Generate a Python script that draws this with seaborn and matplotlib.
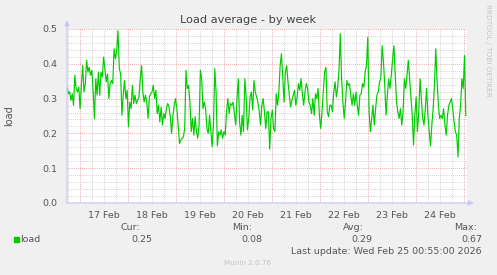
import numpy as np
import pandas as pd
import matplotlib
matplotlib.use("Agg")
import matplotlib.pyplot as plt
import matplotlib.dates as mdates
from matplotlib.ticker import MultipleLocator, FuncFormatter, NullFormatter
import seaborn as sns

# ---------------- data ----------------
title = "Load average - by week"
ylabel = "load"
series_name = "load"
seg1 = [0.333,0.314,0.319,0.295,0.314,0.281,0.367,0.329,0.319,0.333,
        0.271,0.338,0.395,0.319,0.343,0.41,0.376,0.39,0.367,0.381,
        0.319,0.243,0.357,0.31,0.376,0.31,0.376,0.362,0.419,0.386,
        0.348,0.371,0.3,0.343,0.352,0.343,0.443,0.414,0.438,0.495,
        0.386,0.371,0.252,0.31,0.352,0.3,0.324,0.219,0.29,0.271,
        0.338,0.286,0.31,0.286,0.295,0.305,0.357,0.395,0.319,0.29]
seg2 = [0.31,0.29,0.243,0.305,0.314,0.319,0.338,0.3,0.324,0.257,
        0.281,0.233,0.276,0.224,0.257,0.243,0.271,0.286,0.276,0.248,
        0.2,0.252,0.281,0.3,0.271,0.224,0.171,0.181,0.186,0.19,
        0.214,0.381,0.329,0.338,0.29,0.205,0.243,0.195,0.248,0.205,
        0.186,0.224,0.381,0.357,0.271,0.29,0.271,0.214,0.2,0.252,
        0.205,0.162,0.224,0.386,0.319,0.164,0.205,0.195,0.21,0.186,
        0.205,0.195]
seg3 = [0.262,0.3,0.257,0.286,0.281,0.29,0.257,0.224,0.3,0.357,
        0.233,0.195,0.252,0.205,0.357,0.305,0.21,0.243,0.305,0.319,
        0.267,0.352,0.319,0.305,0.29,0.262,0.224,0.281,0.3,0.262,
        0.214,0.262,0.262,0.155,0.243,0.267,0.214,0.205,0.314,0.281,
        0.319,0.395,0.429,0.357,0.29,0.376,0.395,0.348,0.31,0.276,
        0.295,0.31,0.324,0.281,0.305,0.343,0.324,0.357,0.314,0.281,
        0.319,0.343]
seg4 = [0.329,0.29,0.281,0.257,0.3,0.252,0.314,0.3,0.329,0.252,
        0.214,0.262,0.319,0.376,0.39,0.262,0.248,0.281,0.281,0.262,
        0.319,0.348,0.305,0.333,0.381,0.486,0.357,0.29,0.243,0.29,
        0.352,0.338,0.343,0.31,0.281,0.314,0.281,0.319,0.281,0.252,
        0.31,0.314,0.343,0.333,0.376,0.395,0.476,0.262,0.205,0.243,
        0.281,0.224,0.271,0.31,0.319,0.348,0.357,0.452,0.405,0.338]
seg5 = [0.252,0.31,0.357,0.329,0.367,0.414,0.452,0.367,0.29,0.262,
        0.243,0.271,0.224,0.262,0.357,0.329,0.367,0.41,0.357,0.3,
        0.252,0.167,0.252,0.305,0.205,0.262,0.357,0.3,0.243,0.224,
        0.271,0.329,0.252,0.205,0.164,0.224,0.271,0.338,0.443,0.352,
        0.281,0.243,0.252,0.243,0.271,0.224,0.195,0.252,0.281,0.29,
        0.3,0.271,0.233,0.205,0.195,0.132,0.243,0.281,0.357,0.329,
        0.424,0.25]
load_values = seg1 + seg2 + seg3 + seg4 + seg5
data_start = "2026-02-16 17:30"
data_end = "2026-02-25 00:55"
view_start = "2026-02-16 17:30"
view_end = "2026-02-25 01:30"
legend_headers = ["Cur:", "Min:", "Avg:", "Max:"]
legend_values = ["0.25", "0.08", "0.29", "0.67"]
last_update = "Last update: Wed Feb 25 00:55:00 2026"
footer = "Munin 2.0.76"
side_text = "RRDTOOL / TOBI OETIKER"

times = pd.date_range(data_start, data_end, periods=len(load_values))
df = pd.DataFrame({"time": times, "load": load_values})

# ---------------- style ----------------
sns.set_style("white")
plt.rcParams["font.family"] = ["DejaVu Sans"]
BG = "#F0F0F0"
TXT = "#555555"
AX = "#C8C8F8"
RED = "#E89090"
GRAY = "#BEBEBE"

fig = plt.figure(figsize=(4.97, 2.75), dpi=100, facecolor=BG)
W, H = 497, 275
ax = fig.add_axes([67 / W, 1 - 203 / H, 400 / W, 174 / H])
ax.set_facecolor("white")

sns.lineplot(data=df, x="time", y="load", ax=ax, color="#00CC00", lw=0.85)

ax.set_xlim(pd.Timestamp(view_start), pd.Timestamp(view_end))
ax.set_ylim(0, 0.5)

# grid
ax.yaxis.set_major_locator(MultipleLocator(0.1))
ax.yaxis.set_minor_locator(MultipleLocator(0.02))
ax.xaxis.set_major_locator(mdates.DayLocator())
ax.xaxis.set_minor_locator(mdates.HourLocator(byhour=[6, 12, 18]))
ax.grid(which="minor", color=GRAY, ls=(0, (1, 1.5)), lw=0.55)
ax.grid(which="major", color=RED, ls=(0, (1, 1.5)), lw=0.6)
ax.set_axisbelow(True)

ax.yaxis.set_major_formatter(FuncFormatter(lambda v, p: f"{v:.1f}"))


def noon_fmt(v, p):
    frac = v % 1.0
    if abs(frac - 0.5) < 0.01:
        return mdates.num2date(v).strftime("%d Feb").lstrip("0")
    return ""


ax.xaxis.set_major_formatter(NullFormatter())
ax.xaxis.set_minor_formatter(FuncFormatter(noon_fmt))
ax.tick_params(axis="both", which="major", length=2, width=0.6, color="#E07070",
               labelsize=6.8, labelcolor=TXT, pad=2)
ax.tick_params(axis="both", which="minor", length=2, width=0.6, color="#BBBBBB",
               labelsize=6.8, labelcolor=TXT, pad=4)
ax.tick_params(axis="y", which="major", pad=5)

for s in ax.spines.values():
    s.set_visible(False)

ax.set_xlabel("")
ax.set_ylabel("")

# axes arrows
ax.annotate("", xy=(0, 1.05), xytext=(0, 0), xycoords="axes fraction",
            arrowprops=dict(arrowstyle="-|>", color=AX, lw=0.9, mutation_scale=7,
                            shrinkA=0, shrinkB=0))
ax.annotate("", xy=(1.017, 0), xytext=(0, 0), xycoords="axes fraction",
            arrowprops=dict(arrowstyle="-|>", color=AX, lw=0.9, mutation_scale=7,
                            shrinkA=0, shrinkB=0))

# texts
def ft(x, y, s, **kw):
    fig.text(x / W, 1 - y / H, s, **kw)

ft(248, 20, title, ha="center", va="center", fontsize=8.2, color="#444444")
ft(9, 116, ylabel, ha="center", va="center", rotation=90, fontsize=7, color=TXT)
ft(488, 50, side_text, ha="center", va="center", rotation=270, fontsize=5.2,
   color="#C4C4C4")

hdr_x = [130, 242, 353, 466]
val_x = [142, 252, 362, 472]
for hx, vx, h, v in zip(hdr_x, val_x, legend_headers, legend_values):
    ft(hx, 227, h, ha="center", va="center", fontsize=6.8, color=TXT)
    ft(vx, 239, v, ha="center", va="center", fontsize=6.8, color=TXT)

fig.patches.append(plt.Rectangle((14 / W, 1 - 242 / H), 5 / W, 5 / H,
                                 transform=fig.transFigure, color="#00CC00"))
ft(20, 239, series_name, ha="left", va="center", fontsize=6.8, color=TXT)
ft(482, 251, last_update, ha="right", va="center", fontsize=6.8, color=TXT)
ft(248, 263, footer, ha="center", va="center", fontsize=5.2, color="#C4C4C4")

fig.savefig("out.png", dpi=100, facecolor=BG)
